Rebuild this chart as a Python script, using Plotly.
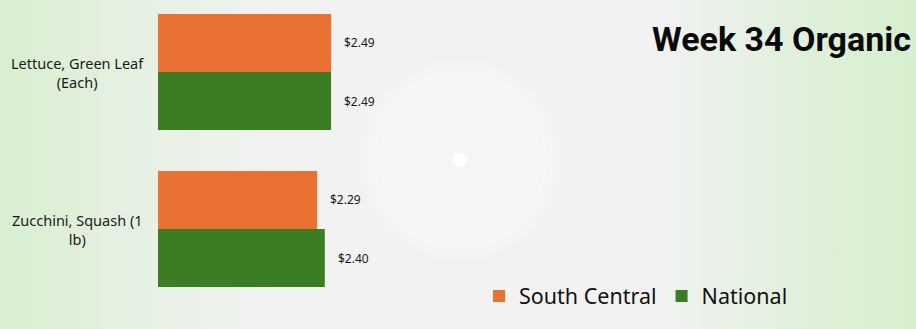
import plotly.graph_objects as go
import urllib.parse

categories = ["Lettuce, Green Leaf<br>(Each)", "Zucchini, Squash (1<br>lb)"]
series_names = ["South Central", "National"]
south_central = [2.49, 2.29]
national = [2.49, 2.40]
colors = ["#E97132", "#3A7D22"]
title_text = "Week 34 Organic"

W, H = 916, 329
ML, MT, MB, MR = 158, 0, 29, 0
plot_w = W - ML - MR
plot_h = H - MT - MB
px_per_unit = 69.5
x_max = plot_w / px_per_unit
cat_px = 157.0
y_top = -72.0 / cat_px
y_bot = 1 + (plot_h - 229.0) / cat_px
bargap = 0.26

svg = f'''<svg xmlns="http://www.w3.org/2000/svg" width="{W}" height="{H}" viewBox="0 0 {W} {H}">
<defs>
<linearGradient id="lg" x1="0" y1="0" x2="{W}" y2="0" gradientUnits="userSpaceOnUse">
<stop offset="0" stop-color="#d8efd0"/>
<stop offset="0.2" stop-color="#eaf1e8"/>
<stop offset="0.3" stop-color="#f1f2f1"/>
<stop offset="0.72" stop-color="#f1f2f1"/>
<stop offset="0.85" stop-color="#e2f0de"/>
<stop offset="1" stop-color="#d6efcd"/>
</linearGradient>
<radialGradient id="rg" cx="460" cy="160" r="105" gradientUnits="userSpaceOnUse">
<stop offset="0" stop-color="#ffffff" stop-opacity="0.8"/>
<stop offset="0.06" stop-color="#ffffff" stop-opacity="0.6"/>
<stop offset="0.1" stop-color="#ffffff" stop-opacity="0.2"/>
<stop offset="0.85" stop-color="#ffffff" stop-opacity="0.25"/>
<stop offset="1" stop-color="#ffffff" stop-opacity="0"/>
</radialGradient>
</defs>
<rect width="{W}" height="{H}" fill="url(#lg)"/>
<circle cx="460" cy="160" r="105" fill="url(#rg)"/>
<circle cx="460" cy="160" r="86" fill="none" stroke="#ffffff" stroke-opacity="0.25" stroke-width="1.5"/>
<circle cx="460" cy="160" r="6" fill="#ffffff"/>
</svg>'''
bg_src = "data:image/svg+xml;charset=utf-8," + urllib.parse.quote(svg)

fig = go.Figure()
for name, vals, col in zip(series_names, [south_central, national], colors):
    fig.add_trace(go.Bar(
        y=categories, x=vals, name=name, orientation="h",
        marker=dict(color=col, line=dict(width=0)),
    ))

annotations = []
bar_w = (1 - bargap) / 2
for s, vals in enumerate([south_central, national]):
    off = -bar_w / 2 if s == 0 else bar_w / 2
    for i, v in enumerate(vals):
        annotations.append(dict(
            x=v, y=i + off, xref="x", yref="y", text=f"${v:.2f}",
            showarrow=False, xanchor="left", yanchor="middle", xshift=11,
            font=dict(size=12, color="#1a1a1a", family="Noto Sans, Open Sans, sans-serif"),
        ))
for i, c in enumerate(categories):
    annotations.append(dict(
        x=-(ML - 77) / plot_w, y=i, xref="paper", yref="y", text=c,
        showarrow=False, xanchor="center", yanchor="middle", align="center",
        font=dict(size=14.5, color="#1a1a1a", family="Noto Sans, Open Sans, sans-serif"),
    ))
annotations.append(dict(
    x=(913 - ML) / plot_w, y=1 - (39 - MT) / plot_h, xref="paper", yref="paper",
    text=f"<b>{title_text}</b>", showarrow=False, xanchor="right", yanchor="middle",
    font=dict(size=34, color="#0a0a0a", family="Roboto, sans-serif"),
))

fig.update_layout(
    width=W, height=H,
    margin=dict(l=ML, r=MR, t=MT, b=MB, pad=0),
    paper_bgcolor="#efefef", plot_bgcolor="rgba(0,0,0,0)",
    barmode="group", bargap=bargap, bargroupgap=0,
    xaxis=dict(range=[0, x_max], visible=False, fixedrange=True),
    yaxis=dict(range=[y_bot, y_top], showticklabels=False, showgrid=False,
               zeroline=False, showline=False, ticks=""),
    showlegend=True,
    legend=dict(orientation="h", x=(479 - ML) / plot_w, y=1 - (296 - MT) / plot_h,
                xanchor="left", yanchor="middle", bgcolor="rgba(0,0,0,0)",
                font=dict(size=21.5, color="#111111", family="Noto Sans, Open Sans, sans-serif"),
                itemwidth=30, tracegroupgap=0),
    annotations=annotations,
    images=[dict(source=bg_src, xref="paper", yref="paper",
                 x=-ML / plot_w, y=1 + MT / plot_h, sizex=W / plot_w, sizey=H / plot_h,
                 xanchor="left", yanchor="top", sizing="stretch", layer="below")],
)

fig.write_html("out.html")
